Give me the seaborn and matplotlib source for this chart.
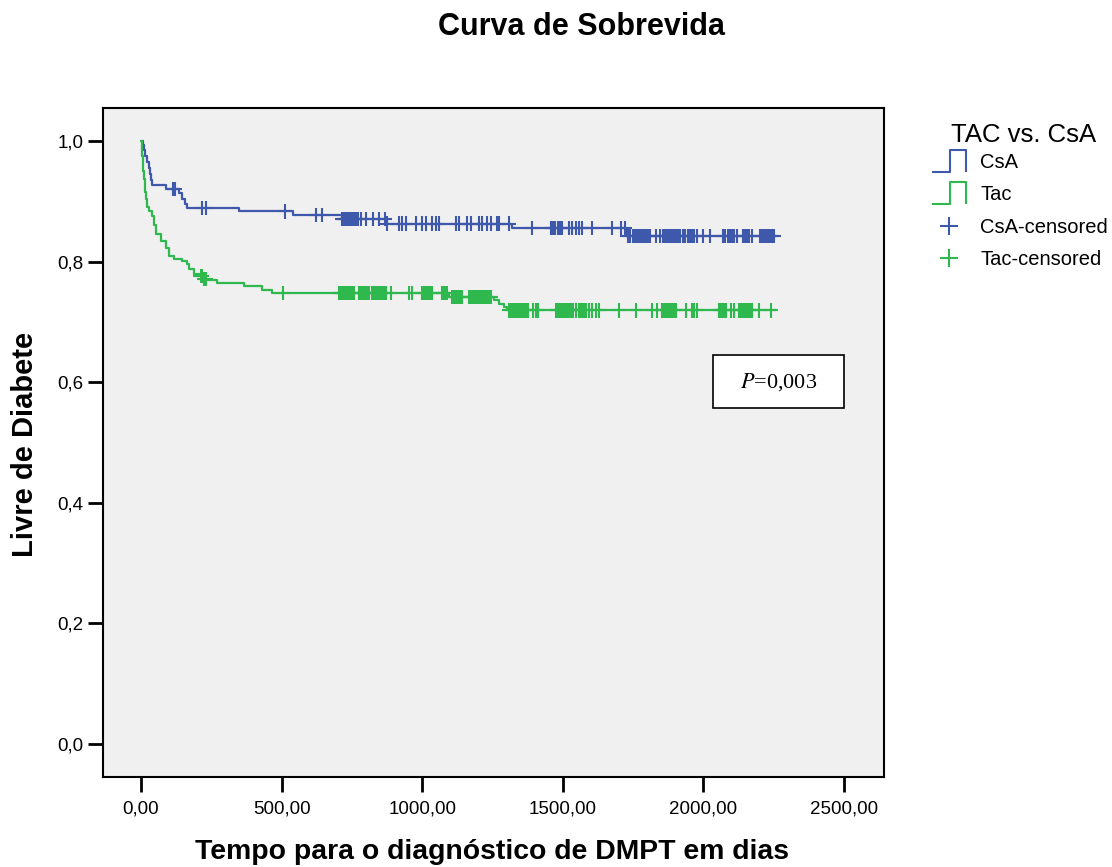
import numpy as np
import pandas as pd
import matplotlib
matplotlib.use("Agg")
import matplotlib.pyplot as plt
from matplotlib.lines import Line2D
from matplotlib.path import Path
from matplotlib.patches import Rectangle
import seaborn as sns

# Kaplan-Meier step curves (time in days, survival fraction)
CSA_TIMES = [0, 8, 12, 16, 22, 28, 32, 36, 40, 88, 135, 147, 156, 165, 348, 542, 714, 876, 1320, 1724, 2258]
CSA_SURV = [1.0, 0.993, 0.985, 0.975, 0.965, 0.955, 0.945, 0.935, 0.927, 0.920, 0.913, 0.904, 0.896,
            0.889, 0.883, 0.877, 0.870, 0.863, 0.855, 0.842, 0.842]

TAC_TIMES = [0, 2, 4, 6, 8, 10, 13, 16, 19, 22, 30, 40, 48, 52, 70, 88, 100, 117, 147, 164, 170, 188,
             205, 222, 235, 271, 366, 431, 467, 1095, 1255, 1273, 1291, 1303, 2258]
TAC_SURV = [1.0, 0.987, 0.975, 0.964, 0.950, 0.937, 0.925, 0.915, 0.903, 0.890, 0.883, 0.876, 0.861,
            0.846, 0.834, 0.823, 0.809, 0.804, 0.801, 0.796, 0.787, 0.779, 0.776, 0.771, 0.769, 0.764,
            0.759, 0.753, 0.748, 0.741, 0.737, 0.730, 0.725, 0.719, 0.719]

# censored observations (days)
CSA_CENSORED = [113, 121, 218, 232, 511, 623, 642, 714, 718, 722, 727, 731, 735, 740, 745, 750, 755,
                760, 766, 772, 781, 799, 825, 846, 868, 876, 917, 928, 941, 977, 1000, 1012, 1036,
                1048, 1060, 1119, 1131, 1160, 1172, 1202, 1214, 1231, 1243, 1267, 1273, 1309, 1391,
                1457, 1465, 1473, 1482, 1490, 1498, 1522, 1534, 1546, 1558, 1568, 1605, 1676, 1706,
                1721, 1730, 1739, 1750, 1756, 1762, 1768, 1774, 1780, 1786, 1792, 1798, 1804, 1810,
                1833, 1845, 1857, 1863, 1869, 1875, 1881, 1887, 1893, 1899, 1905, 1910, 1916, 1928,
                1936, 1944, 1952, 1960, 1968, 1976, 1999, 2023, 2070, 2078, 2086, 2094, 2102, 2110,
                2118, 2141, 2148, 2155, 2163, 2171, 2201, 2208, 2215, 2222, 2229, 2236, 2242, 2250]
TAC_CENSORED = [212, 218, 224, 230, 506, 704, 710, 716, 722, 728, 734, 740, 746, 752, 757, 775, 781,
                787, 793, 799, 805, 811, 822, 828, 834, 840, 846, 852, 858, 864, 871, 888, 953, 964,
                1000, 1006, 1012, 1018, 1024, 1030, 1036, 1071, 1077, 1083, 1089, 1107, 1113, 1119,
                1125, 1131, 1137, 1142, 1166, 1172, 1178, 1184, 1190, 1196, 1202, 1209, 1215, 1221,
                1227, 1233, 1239, 1245, 1309, 1315, 1321, 1327, 1333, 1339, 1345, 1351, 1357, 1363,
                1369, 1375, 1393, 1405, 1411, 1475, 1481, 1487, 1493, 1499, 1505, 1511, 1517, 1523,
                1529, 1535, 1546, 1558, 1564, 1570, 1576, 1582, 1593, 1605, 1617, 1629, 1700, 1759,
                1818, 1835, 1853, 1860, 1867, 1874, 1881, 1888, 1895, 1903, 1937, 1960, 1968, 1977,
                2056, 2062, 2068, 2074, 2080, 2097, 2109, 2127, 2133, 2139, 2145, 2151, 2157, 2163,
                2168, 2173, 2198, 2240]

GROUPS = ["CsA", "Tac"]
COLORS = {"CsA": "#3E58AC", "Tac": "#2EB84E"}

X_TICKS = [0, 500, 1000, 1500, 2000, 2500]
X_TICK_LABELS = ["0,00", "500,00", "1000,00", "1500,00", "2000,00", "2500,00"]
Y_TICKS = [0.0, 0.2, 0.4, 0.6, 0.8, 1.0]
Y_TICK_LABELS = ["0,0", "0,2", "0,4", "0,6", "0,8", "1,0"]


def step_value(times, surv, t):
    idx = np.searchsorted(times, t, side="right") - 1
    return surv[idx]


curves = pd.concat([
    pd.DataFrame({"tempo": CSA_TIMES, "surv": CSA_SURV, "grupo": "CsA"}),
    pd.DataFrame({"tempo": TAC_TIMES, "surv": TAC_SURV, "grupo": "Tac"}),
], ignore_index=True)

censored = pd.concat([
    pd.DataFrame({"tempo": CSA_CENSORED,
                  "surv": [step_value(CSA_TIMES, CSA_SURV, t) for t in CSA_CENSORED],
                  "grupo": "CsA"}),
    pd.DataFrame({"tempo": TAC_CENSORED,
                  "surv": [step_value(TAC_TIMES, TAC_SURV, t) for t in TAC_CENSORED],
                  "grupo": "Tac"}),
], ignore_index=True)

sns.set_style("white")
plt.rcParams["font.family"] = ["Liberation Sans", "DejaVu Sans"]
plt.rcParams["mathtext.fontset"] = "stix"
plt.rcParams["text.color"] = "black"
plt.rcParams["xtick.color"] = "black"
plt.rcParams["ytick.color"] = "black"

W, H = 1112, 867
fig = plt.figure(figsize=(W / 100, H / 100), dpi=100)
ax = fig.add_axes([102.7 / W, 1 - 777.3 / H, (884 - 102.7) / W, (777.3 - 107.7) / H])
ax.set_facecolor("#F0F0F0")

sns.lineplot(data=curves, x="tempo", y="surv", hue="grupo", palette=COLORS, hue_order=GROUPS,
             estimator=None, drawstyle="steps-post", linewidth=1.6, legend=False, ax=ax)
sns.scatterplot(data=censored, x="tempo", y="surv", hue="grupo", palette=COLORS, hue_order=GROUPS,
                marker="+", s=105, linewidth=1.5, legend=False, ax=ax, zorder=3)

ax.set_xlim(-136, 2642)
ax.set_ylim(-0.055, 1.055)
ax.set_xticks(X_TICKS)
ax.set_xticklabels(X_TICK_LABELS)
ax.set_yticks(Y_TICKS)
ax.set_yticklabels(Y_TICK_LABELS)
ax.tick_params(axis="both", direction="out", length=11, width=2, labelsize=13.5,
               colors="black", bottom=True, left=True)
ax.tick_params(axis="x", pad=6)
ax.tick_params(axis="y", pad=3)
ax.set_xlabel("")
ax.set_ylabel("")
for sp in ax.spines.values():
    sp.set_visible(True)
    sp.set_color("black")
    sp.set_linewidth(1.5)

# P-value box
ax.add_patch(Rectangle((2034, 0.557), 465, 0.088, facecolor="white", edgecolor="black",
                       linewidth=1.2, zorder=4))
ax.text(2266, 0.601, r"$\mathit{P}$=0,003", family="Liberation Serif", fontsize=16,
        ha="center", va="center", zorder=5)

# legend (title drawn separately for exact placement)
step_marker = Path([(-1, -0.65), (0.05, -0.65), (0.05, 0.65), (1, 0.65), (1, -0.65)])
handles = [
    Line2D([], [], linestyle="none", marker=step_marker, markersize=25, markerfacecolor="none",
           markeredgecolor=COLORS["CsA"], markeredgewidth=1.5, label="CsA"),
    Line2D([], [], linestyle="none", marker=step_marker, markersize=25, markerfacecolor="none",
           markeredgecolor=COLORS["Tac"], markeredgewidth=1.5, label="Tac"),
    Line2D([], [], linestyle="none", marker="+", markersize=13, markeredgewidth=1.5,
           color=COLORS["CsA"], label="CsA-censored"),
    Line2D([], [], linestyle="none", marker="+", markersize=13, markeredgewidth=1.5,
           color=COLORS["Tac"], label="Tac-censored"),
]
fig.legend(handles=handles, loc="upper left", bbox_to_anchor=(930 / W, 1 - 153 / H),
           frameon=False, fontsize=14.5, handlelength=1.9, handletextpad=0.6,
           labelspacing=0.66, borderaxespad=0, borderpad=0)
fig.text(1024 / W, 1 - 135 / H, "TAC vs. CsA", ha="center", va="center", fontsize=18.5)

fig.text(582 / W, 1 - 27 / H, "Curva de Sobrevida", ha="center", va="center",
         fontsize=22, fontweight="bold")
fig.text(492 / W, 1 - 852 / H, "Tempo para o diagnóstico de DMPT em dias", ha="center",
         va="center", fontsize=20.4, fontweight="bold")
fig.text(25 / W, 1 - 444 / H, "Livre de Diabete", ha="center", va="center", rotation=90,
         fontsize=21, fontweight="bold")

fig.savefig("out.png", dpi=100)
